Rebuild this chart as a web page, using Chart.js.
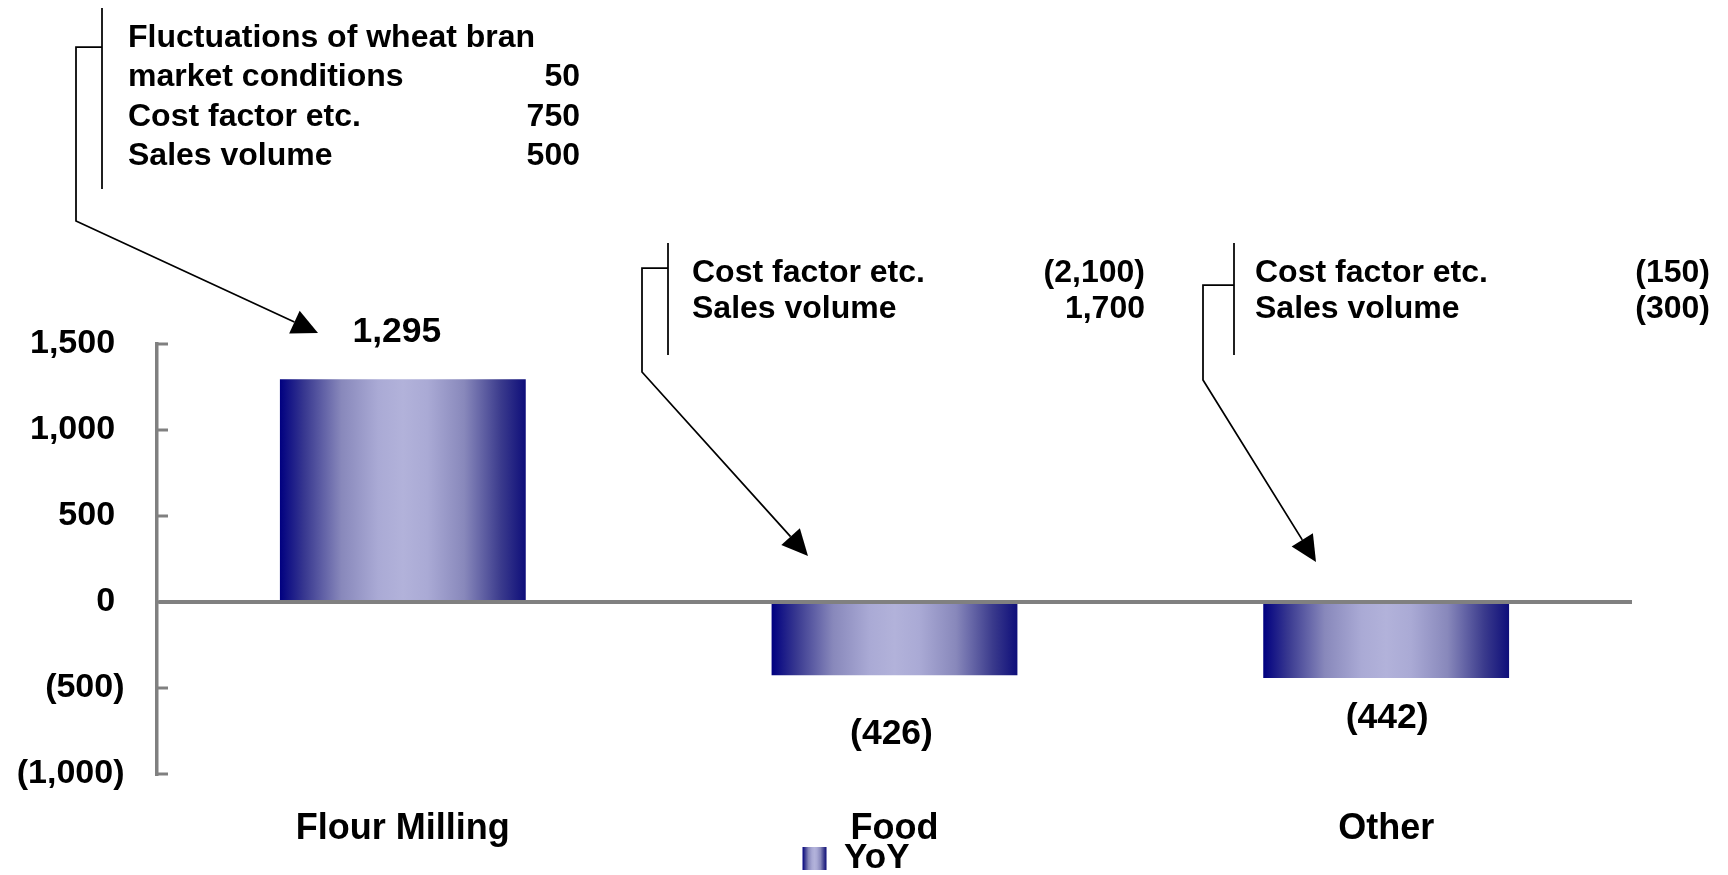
<!DOCTYPE html>
<html>
<head>
<meta charset="utf-8">
<title>YoY by segment</title>
<script src="https://cdn.jsdelivr.net/npm/chart.js@4.4.1/dist/chart.umd.min.js"></script>
<style>
  html, body { margin: 0; padding: 0; background: #fff; }
  #wrap { width: 1728px; height: 875px; position: relative; }
</style>
</head>
<body>
<div id="wrap"><canvas id="chartCanvas"></canvas></div>
<script>
// chart data
const categories = ['Flour Milling', 'Food', 'Other'];
const yoyValues = [1295, -426, -442];
const seriesName = 'YoY';
const yMin = -1000;
const yMax = 1500;
const yStep = 500;

// callout texts (label, amount)
const flourNotes = [
    ['Fluctuations of wheat bran', ''],
    ['market conditions', '50'],
    ['Cost factor etc.', '750'],
    ['Sales volume', '500']
];
const foodNotes = [['Cost factor etc.', '(2,100)'], ['Sales volume', '1,700']];
const otherNotes = [['Cost factor etc.', '(150)'], ['Sales volume', '(300)']];

const FONT = '"Liberation Sans", Arial, sans-serif';
Chart.defaults.font.family = FONT;
Chart.defaults.color = '#000';

// where the callout boxes sit on the page
const callouts = [
    { notes: flourNotes, textX: 128, numX: 580, firstY: 38, gap: 39.5,
      bracket: [102, 8, 189], path: [[102, 47], [76, 47], [76, 221], [318, 333]] },
    { notes: foodNotes, textX: 692, numX: 1145, firstY: 273, gap: 36,
      bracket: [668, 243, 355], path: [[668, 268], [642, 268], [642, 372], [808, 556]] },
    { notes: otherNotes, textX: 1255, numX: 1710, firstY: 273, gap: 36,
      bracket: [1234, 243, 355], path: [[1234, 285], [1203, 285], [1203, 380], [1316, 562]] }
];
// value label nudge from the bar end [dx, dy]
const valueLabelNudge = [[-6, -47], [-3, 59], [1, 40]];
const LEGEND_SIZE = 35;

function barGradient(ctx, x0, x1) {
    const g = ctx.createLinearGradient(x0, 0, x1, 0);
    g.addColorStop(0, '#000080');
    g.addColorStop(0.1, '#383890');
    g.addColorStop(0.25, '#8888bb');
    g.addColorStop(0.4, '#aaaad5');
    g.addColorStop(0.5, '#b2b2da');
    g.addColorStop(0.6, '#aaaad5');
    g.addColorStop(0.75, '#8888bb');
    g.addColorStop(0.9, '#3a3a8c');
    g.addColorStop(1, '#0e0e7a');
    return g;
}

function fmtNumber(v) {
    const s = Math.abs(v).toLocaleString('en-US');
    return v < 0 ? '(' + s + ')' : s;
}

const legendBoxPlugin = {
    id: 'legendBox',
    beforeDraw(chart) {
        const lg = chart.legend;
        if (!lg || !lg.legendItems || !lg.legendItems.length) return;
        const ctx = chart.ctx;
        ctx.save();
        ctx.font = 'bold ' + LEGEND_SIZE + 'px ' + FONT;
        const itemWidth = 24 + LEGEND_SIZE / 2 + ctx.measureText(seriesName).width;
        ctx.restore();
        const left = (lg.left + lg.right - itemWidth) / 2;
        lg.legendItems[0].fillStyle = barGradient(ctx, left, left + 24);
    }
};

const valueLabels = {
    id: 'valueLabels',
    afterDatasetsDraw(chart) {
        const ctx = chart.ctx;
        const meta = chart.getDatasetMeta(0);
        ctx.save();
        ctx.font = 'bold 35.5px ' + FONT;
        ctx.fillStyle = '#000';
        ctx.textAlign = 'center';
        ctx.textBaseline = 'middle';
        meta.data.forEach((bar, i) => {
            const [dx, dy] = valueLabelNudge[i];
            ctx.fillText(fmtNumber(yoyValues[i]), bar.x + dx, bar.y + dy);
        });
        ctx.restore();
    }
};

const calloutPlugin = {
    id: 'callouts',
    afterDraw(chart) {
        const ctx = chart.ctx;
        ctx.save();
        ctx.strokeStyle = '#000';
        ctx.fillStyle = '#000';
        ctx.lineWidth = 1.75;
        callouts.forEach(co => {
            const [bx, by0, by1] = co.bracket;
            ctx.beginPath();
            ctx.moveTo(bx, by0);
            ctx.lineTo(bx, by1);
            ctx.stroke();

            // leader line, stopped at the arrow head base
            const p = co.path;
            const tip = p[p.length - 1];
            const from = p[p.length - 2];
            const ang = Math.atan2(tip[1] - from[1], tip[0] - from[0]);
            const len = 26, half = 12.5;
            const baseX = tip[0] - len * Math.cos(ang);
            const baseY = tip[1] - len * Math.sin(ang);
            ctx.beginPath();
            ctx.moveTo(p[0][0], p[0][1]);
            for (let i = 1; i < p.length - 1; i++) ctx.lineTo(p[i][0], p[i][1]);
            ctx.lineTo(baseX, baseY);
            ctx.stroke();

            ctx.beginPath();
            ctx.moveTo(tip[0], tip[1]);
            ctx.lineTo(baseX - half * Math.sin(ang), baseY + half * Math.cos(ang));
            ctx.lineTo(baseX + half * Math.sin(ang), baseY - half * Math.cos(ang));
            ctx.closePath();
            ctx.fill();

            ctx.font = 'bold 32px ' + FONT;
            ctx.textBaseline = 'middle';
            co.notes.forEach((row, i) => {
                const y = co.firstY + i * co.gap;
                ctx.textAlign = 'left';
                ctx.fillText(row[0], co.textX, y);
                if (row[1]) {
                    ctx.textAlign = 'right';
                    ctx.fillText(row[1], co.numX, y);
                }
            });
        });
        ctx.restore();
    }
};

new Chart(document.getElementById('chartCanvas'), {
    type: 'bar',
    data: {
        labels: categories,
        datasets: [{
            label: seriesName,
            data: yoyValues,
            barPercentage: 0.5,
            categoryPercentage: 1.0,
            borderWidth: 0,
            backgroundColor: (c) => {
                const chart = c.chart;
                const xs = chart.scales.x;
                if (c.dataIndex === undefined || !xs || !chart.chartArea) return '#7070b0';
                const center = xs.getPixelForValue(c.dataIndex);
                const half = xs.width / categories.length * 0.5 / 2;
                return barGradient(chart.ctx, center - half, center + half);
            }
        }]
    },
    options: {
        responsive: true,
        maintainAspectRatio: false,
        animation: false,
        layout: { padding: { top: 344, left: 0, right: 16, bottom: -11 } },
        plugins: {
            tooltip: { enabled: false },
            legend: {
                position: 'bottom',
                labels: {
                    font: { size: LEGEND_SIZE, weight: 'bold' },
                    color: '#000',
                    boxWidth: 24,
                    boxHeight: 23,
                    padding: 10,
                    generateLabels: () => [{
                        text: seriesName,
                        fillStyle: '#7070b0',
                        strokeStyle: 'rgba(0,0,0,0)',
                        lineWidth: 0,
                        datasetIndex: 0,
                        hidden: false
                    }]
                }
            }
        },
        scales: {
            x: {
                grid: { display: false, drawTicks: false },
                border: { display: false },
                ticks: {
                    color: '#000',
                    font: { size: 36, weight: 'bold' },
                    // mirrored so the labels are not clipped to the short axis box;
                    // a mirrored label sits inside, so the padding is negative
                    mirror: true,
                    padding: -77.1,
                    maxRotation: 0,
                    autoSkip: false
                },
                afterFit: (s) => { s.height = 57; }
            },
            y: {
                min: yMin,
                max: yMax,
                z: 1,
                ticks: {
                    stepSize: yStep,
                    color: '#000',
                    font: { size: 34, weight: 'bold' },
                    padding: 43.5,
                    callback: (v) => v < 0 ? fmtNumber(v) : fmtNumber(v) + ' '
                },
                grid: {
                    drawTicks: true,
                    tickLength: -11,
                    tickColor: '#808080',
                    tickWidth: 3,
                    color: (c) => (c.tick && c.tick.value === 0) ? '#808080' : 'rgba(0,0,0,0)',
                    lineWidth: 4
                },
                border: { display: true, color: '#808080', width: 3.5 },
                afterFit: (s) => { s.width = 157; }
            },
            yRight: {
                position: 'right',
                display: true,
                grid: { display: false },
                border: { display: false },
                ticks: { display: false },
                afterFit: (s) => { s.width = 80; }
            }
        }
    },
    plugins: [legendBoxPlugin, valueLabels, calloutPlugin]
});
</script>
</body>
</html>
